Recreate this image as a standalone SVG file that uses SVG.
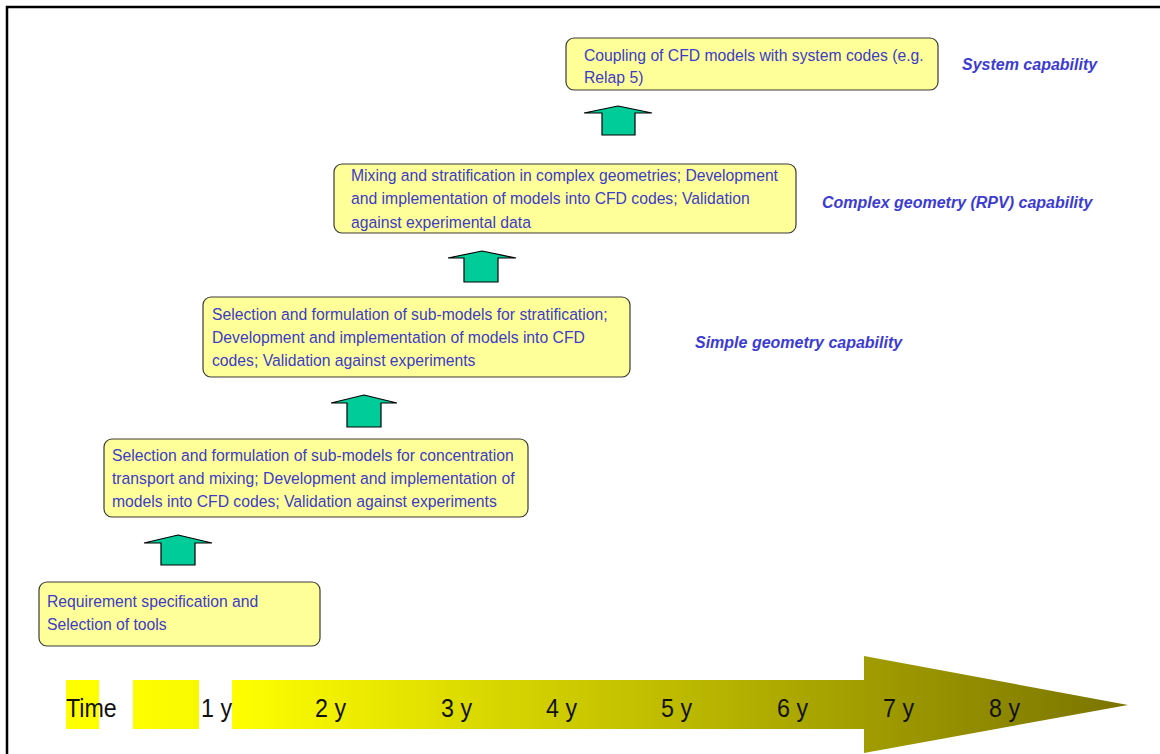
<svg xmlns="http://www.w3.org/2000/svg" width="1160" height="754" viewBox="0 0 1160 754">
  <defs>
    <linearGradient id="timeGrad" gradientUnits="userSpaceOnUse" x1="232" y1="0" x2="1128" y2="0">
      <stop offset="0" stop-color="#ffff00"/>
      <stop offset="1" stop-color="#7a7400"/>
    </linearGradient>
    <linearGradient id="patchGrad" gradientUnits="userSpaceOnUse" x1="133" y1="0" x2="199" y2="0">
      <stop offset="0" stop-color="#ffff00"/>
      <stop offset="1" stop-color="#f8f800"/>
    </linearGradient>
    <style>
      .box { fill: #ffff99; stroke: #3a3a3a; stroke-width: 1.2; }
      .btxt { font-family: "Liberation Sans", Arial, sans-serif; font-size: 17px; fill: #3c3cc8; }
      .cap { font-family: "Liberation Sans", Arial, sans-serif; font-size: 16px; font-style: italic; font-weight: bold; fill: #3c3cd2; }
      .up { fill: #00cc99; stroke: #000; stroke-width: 1.2; stroke-linejoin: miter; }
      .yr { font-family: "Liberation Sans", Arial, sans-serif; font-size: 25px; fill: #111; }
    </style>
  </defs>

  <!-- outer frame -->
  <rect x="7" y="7" width="1170" height="770" fill="none" stroke="#000" stroke-width="2.5"/>

  <!-- time axis -->
  <g id="timeline">
    <rect x="66" y="680" width="33" height="49" fill="#ffff00"/>
    <rect x="133" y="680" width="66" height="49" fill="url(#patchGrad)"/>
    <polygon points="232,680 864,680 864,656 1128,705 864,753 864,729 232,729" fill="url(#timeGrad)"/>
    <text class="yr" transform="translate(66,717) scale(0.93,1)">Time</text>
    <text class="yr" transform="translate(201,717) scale(0.93,1)">1 y</text>
    <text class="yr" transform="translate(315,717) scale(0.93,1)">2 y</text>
    <text class="yr" transform="translate(441,717) scale(0.93,1)">3 y</text>
    <text class="yr" transform="translate(546,717) scale(0.93,1)">4 y</text>
    <text class="yr" transform="translate(661,717) scale(0.93,1)">5 y</text>
    <text class="yr" transform="translate(777,717) scale(0.93,1)">6 y</text>
    <text class="yr" transform="translate(883,717) scale(0.93,1)">7 y</text>
    <text class="yr" transform="translate(989,717) scale(0.93,1)">8 y</text>
  </g>

  <!-- step arrows between stages -->
  <g id="connectors">
    <polygon class="up" points="178,535 212,543 195,543 195,565 161,565 161,543 144,543"/>
    <polygon class="up" points="364,395 397,403 381,403 381,427 347,427 347,403 331,403"/>
    <polygon class="up" points="482,251 516,258 498,258 498,282 464,282 464,258 448,258"/>
    <polygon class="up" points="618,106 652,113 635,113 635,135 602,135 602,113 584,113"/>
  </g>

  <g id="stage1">
    <rect class="box" x="39" y="582" width="281" height="64" rx="8"/>
    <g transform="translate(47,0) scale(0.925,1)">
      <text class="btxt" x="0" y="607">Requirement specification and</text>
      <text class="btxt" x="0" y="630">Selection of tools</text>
    </g>
  </g>

  <g id="stage2">
    <rect class="box" x="104" y="439" width="424" height="78" rx="8"/>
    <g transform="translate(112,0) scale(0.925,1)">
      <text class="btxt" x="0" y="461">Selection and formulation of sub-models for concentration</text>
      <text class="btxt" x="0" y="484">transport and mixing; Development and implementation of</text>
      <text class="btxt" x="0" y="507">models into CFD codes; Validation against experiments</text>
    </g>
  </g>

  <g id="stage3">
    <rect class="box" x="203" y="297" width="427" height="80" rx="8"/>
    <g transform="translate(212,0) scale(0.925,1)">
      <text class="btxt" x="0" y="320">Selection and formulation of sub-models for stratification;</text>
      <text class="btxt" x="0" y="343">Development and implementation of models into CFD</text>
      <text class="btxt" x="0" y="366">codes; Validation against experiments</text>
    </g>
    <text class="cap" x="695" y="348">Simple geometry capability</text>
  </g>

  <g id="stage4">
    <rect class="box" x="334" y="164" width="462" height="69" rx="8"/>
    <g transform="translate(351,0) scale(0.925,1)">
      <text class="btxt" x="0" y="181">Mixing and stratification in complex geometries; Development</text>
      <text class="btxt" x="0" y="204">and implementation of models into CFD codes; Validation</text>
      <text class="btxt" x="0" y="228">against experimental data</text>
    </g>
    <text class="cap" x="822" y="208">Complex geometry (RPV) capability</text>
  </g>

  <g id="stage5">
    <rect class="box" x="566" y="38" width="372" height="52" rx="8"/>
    <g transform="translate(584,0) scale(0.925,1)">
      <text class="btxt" x="0" y="61">Coupling of CFD models with system codes (e.g.</text>
      <text class="btxt" x="0" y="83">Relap 5)</text>
    </g>
    <text class="cap" x="962" y="70">System capability</text>
  </g>
</svg>
